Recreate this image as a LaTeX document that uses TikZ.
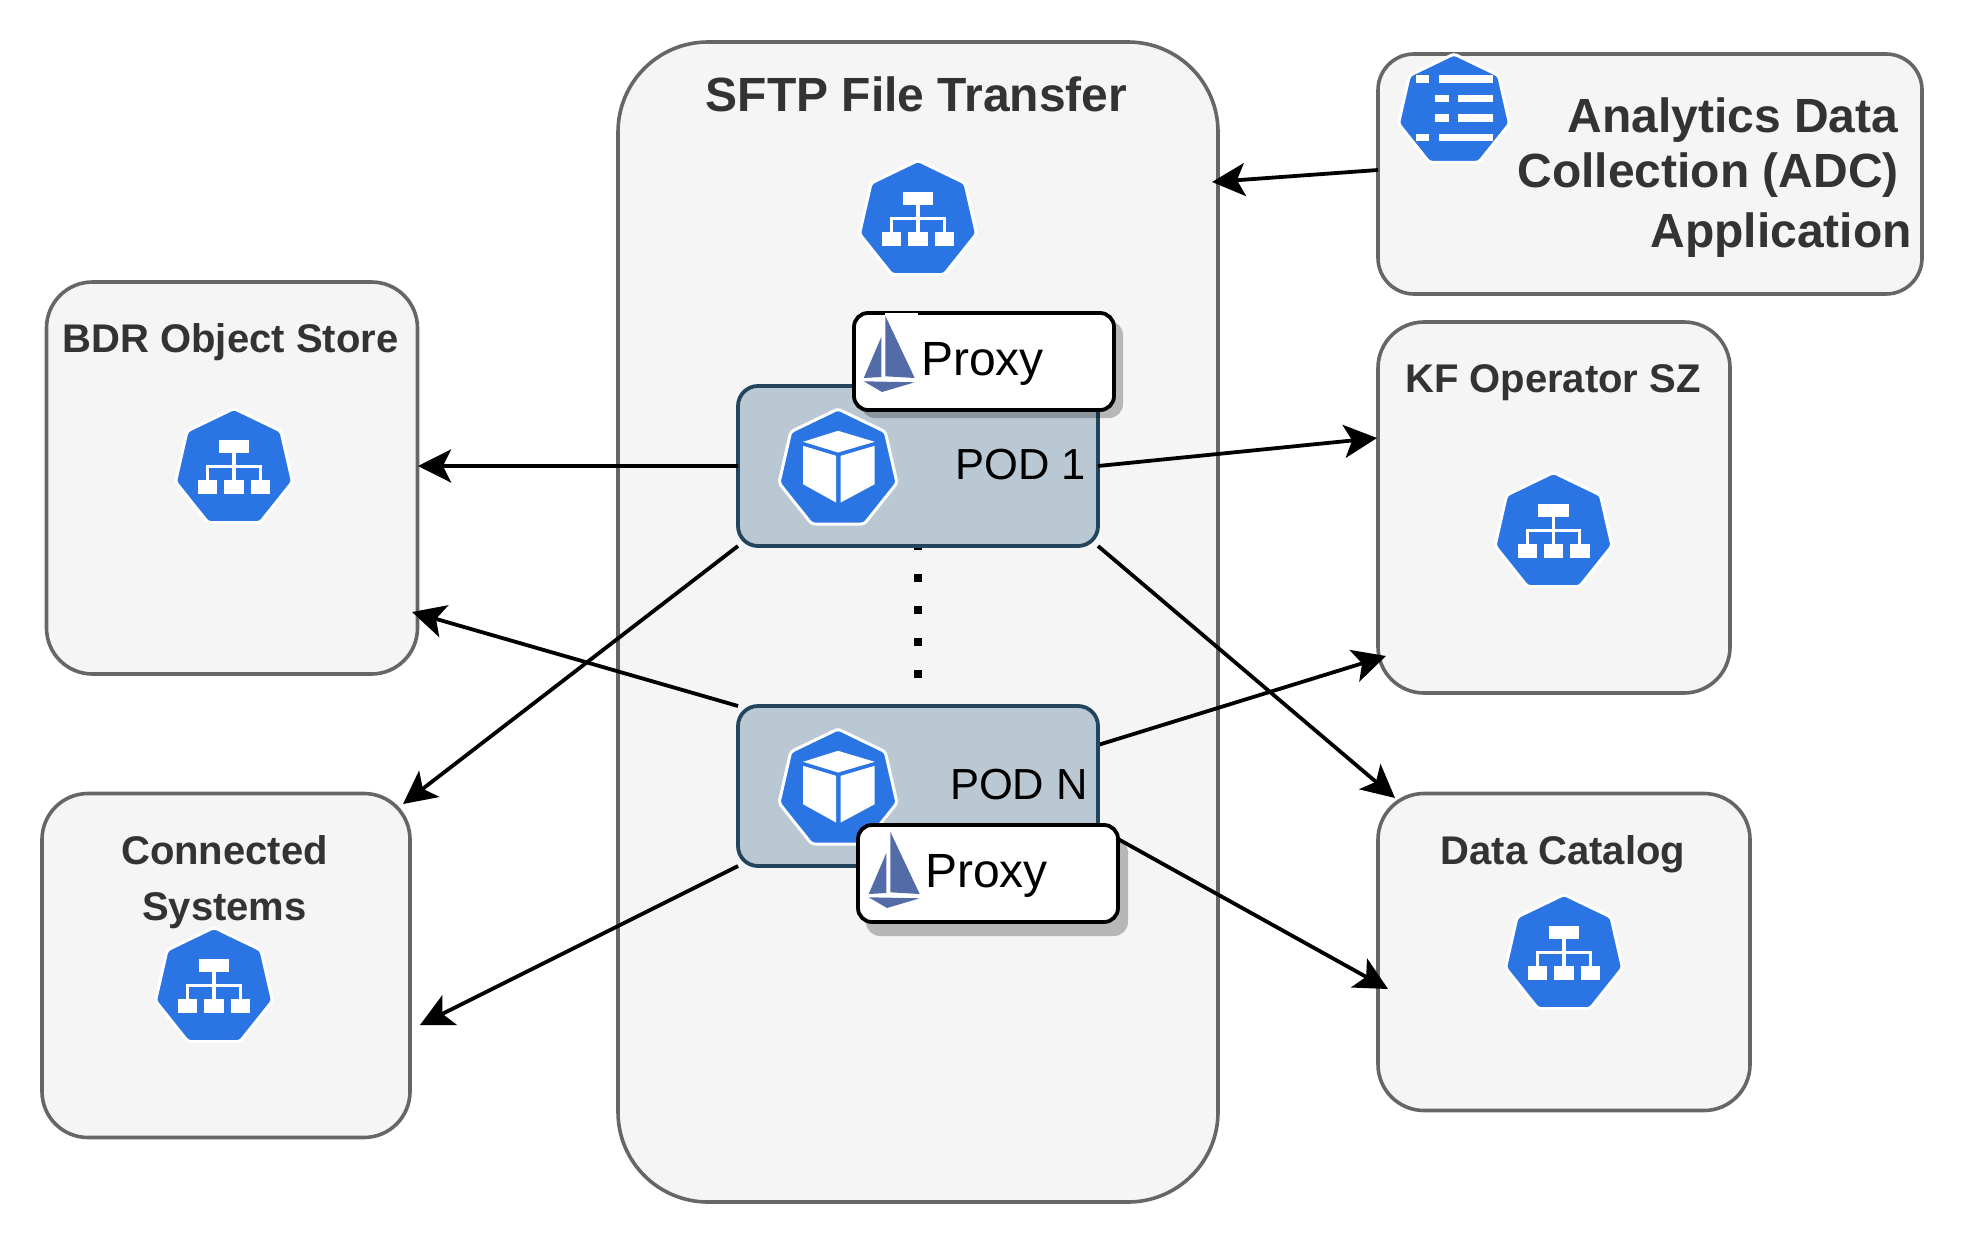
\documentclass[tikz,border=0pt]{standalone}
\usepackage{fontspec}
\setmainfont{Liberation Sans}
\usetikzlibrary{arrows.meta}
\definecolor{panelfill}{HTML}{F5F5F5}
\definecolor{panelline}{HTML}{666666}
\definecolor{podfill}{HTML}{BAC8D3}
\definecolor{podline}{HTML}{23445D}
\definecolor{kblue}{HTML}{2A75E3}
\definecolor{sail}{HTML}{536CA8}
\definecolor{ink}{HTML}{333333}
\tikzset{
  x=1pt,y=-1pt,
  panel/.style={draw=panelline,fill=panelfill,line width=3.6pt,rectangle,inner sep=0pt,outer sep=0pt},
  podbox/.style={draw=podline,fill=podfill,line width=3.8pt,rectangle,rounded corners=20pt,inner sep=0pt,outer sep=0pt,minimum width=360pt,minimum height=160pt},
  proxybox/.style={draw=black,fill=white,line width=3.8pt,rectangle,rounded corners=14pt,inner sep=0pt,outer sep=0pt,minimum width=260pt,minimum height=97pt},
  proxyshadow/.style={fill=black,fill opacity=.25,rectangle,rounded corners=14pt,inner sep=0pt,outer sep=0pt,minimum width=262pt,minimum height=97pt},
  title/.style={text=ink,inner sep=0pt,anchor=base,font=\bfseries\fontsize{40}{55}\selectfont,align=center},
  adctext/.style={title,font=\bfseries\fontsize{48}{55}\selectfont,anchor=base east},
  plain/.style={text=black,inner sep=0pt,font=\fontsize{43.5}{50}\selectfont},
  proxytext/.style={plain,font=\fontsize{48}{50}\selectfont,anchor=base west},
  link/.style={draw=black,line width=3.8pt,-{Stealth[length=33pt,width=33pt,inset=8pt]}},
  pics/hept/.style={code={
    \path[fill=kblue,draw=white,line width=3pt,rounded corners=3pt]
      (-90:#1)--(-38.57:#1)--(12.86:#1)--(64.29:#1)--(115.71:#1)--(167.14:#1)--(218.57:#1)--cycle;
  }},
  pics/svc/.style={code={
    \pic {hept=60};
    \fill[white] (-15.3,-29) rectangle (15.3,-15.7);
    \fill[white] (-36,11.7) rectangle (-16.7,25);
    \fill[white] (-9.7,11.7) rectangle (9.7,25);
    \fill[white] (16.7,11.7) rectangle (36,25);
    \draw[white,line width=3.2pt] (0,-15.7)--(0,11.7);
    \draw[white,line width=3.2pt] (-26.3,11.7)--(-26.3,-1.7)--(26.3,-1.7)--(26.3,11.7);
  }},
  pics/podicon/.style={code={
    \pic {hept=60.5};
    \fill[white] (0,-38.7)--(36.7,-27.7)--(0,-17)--(-35,-27.7)--cycle;
    \fill[white] (-35,-23.7)--(-2,-13.7)--(-2,33)--(-35,14.7)--cycle;
    \fill[white] (2.7,-13.7)--(36.7,-23.7)--(36.7,14.7)--(2.7,33)--cycle;
  }},
  pics/specicon/.style={code={
    \pic {hept=57};
    \foreach \yy/\xa/\xb/\xc/\xd in {-35.7/-38.2/-25/-15.4/38.6,-16/-18.6/-5.4/4.3/38.6,3.3/-18.6/-5.4/4.3/38.6,23/-38.2/-25/-15.4/38.6}{
      \fill[white] (\xa,\yy) rectangle (\xb,\yy+7.3);
      \fill[white] (\xc,\yy) rectangle (\xd,\yy+7.3);
    }
  }},
  pics/sailicon/.style={code={
    \fill[sail] (32.3,2.7)--(61.7,65)--(32.3,63.3)--cycle;
    \fill[sail] (28.3,24)--(10.7,65)--(28.3,64)--cycle;
    \fill[sail] (10.7,68.3)--(61.7,69.3)--(29,79)--cycle;
  }}
}
\begin{document}
\begin{tikzpicture}
\useasboundingbox (0,0) rectangle (1964,1244);
% panels
\node[panel,rounded corners=90pt,minimum width=600pt,minimum height=1160pt] (sftp) at (918,622) {};
\node[panel,rounded corners=36pt,minimum width=544pt,minimum height=240pt] (adc) at (1650,174) {};
\node[panel,rounded corners=46pt,minimum width=371pt,minimum height=392pt] (bdr) at (232,478) {};
\node[panel,rounded corners=46pt,minimum width=368pt,minimum height=344pt] (conn) at (226,965.5) {};
\node[panel,rounded corners=46pt,minimum width=352pt,minimum height=371pt] (kf) at (1554,507.5) {};
\node[panel,rounded corners=46pt,minimum width=372pt,minimum height=317pt] (cat) at (1564,952) {};
% free arrow ends
\coordinate (adcTail) at (1378,170);
\coordinate (sftpIn) at (1212,182);
\coordinate (bdrInA) at (418,466);
\coordinate (bdrInB) at (412,612);
\coordinate (kfInA) at (1377,438);
\coordinate (kfInB) at (1386,656);
\coordinate (connInA) at (403,804);
\coordinate (connInB) at (420,1025);
\coordinate (catInA) at (1395,798);
\coordinate (catInB) at (1388,989);
\coordinate (podNout) at (1098,745);
\coordinate (proxyNout) at (1118,839);
\coordinate (podNtop) at (738,706);
\coordinate (podNbot) at (738,866);
\coordinate (dotsStart) at (918,542);
\coordinate (dotsEnd) at (918,680);
% connectors
\draw[link] (adcTail) -- (sftpIn);
\draw[link] (podNtop) -- (bdrInB);
\draw[link] (podNout) -- (kfInB);
\draw[link] (podNbot) -- (connInB);
\draw[link] (proxyNout) -- (catInB);
\draw[line width=8pt,dash pattern=on 8pt off 24pt] (dotsStart) -- (dotsEnd);
\node[podbox] (pod1) at (918,466) {};
\node[podbox] (podN) at (918,786) {};
\draw[link] (pod1.west) -- (bdrInA);
\draw[link] (pod1.east) -- (kfInA);
\draw[link] (pod1.south west) -- (connInA);
\draw[link] (pod1.south east) -- (catInA);
% icons
\pic at (918,220.5) {svc};
\pic at (234,468.5) {svc};
\pic at (214,987.5) {svc};
\pic at (1553.5,532.5) {svc};
\pic at (1564,954.5) {svc};
\pic at (1454,111) {specicon};
\pic at (838,469.5) {podicon};
\pic at (838,789.5) {podicon};
% proxies
\node[proxyshadow] (shadow1) at (992,369.5) {};
\node[proxybox] (proxy1) at (984,361.5) {};
\fill[white] (885,312.5) rectangle (918,315);
\node[proxyshadow] (shadowN) at (997,887.5) {};
\node[proxybox] (proxyN) at (988,873.5) {};
\pic at (853,313) {sailicon};
\pic at (858,829) {sailicon};
% labels
\node[title,font=\bfseries\fontsize{48}{55}\selectfont] (tsftp) at (916.5,112) {SFTP File Transfer};
\node[title] (tbdr) at (230.5,352) {BDR Object Store};
\node[title] (tconn1) at (224.5,864) {Connected};
\node[title] (tconn2) at (224.5,920) {Systems};
\node[title] (tkf) at (1553,392) {KF Operator SZ};
\node[title] (tcat) at (1563,864) {Data Catalog};
\node[adctext] (tadc1) at (1898.5,132) {Analytics Data};
\node[adctext] (tadc2) at (1899,187) {Collection (ADC)};
\node[adctext] (tadc3) at (1912,247) {Application};
\node[plain,anchor=base east] (lpod1) at (1086,479) {POD 1};
\node[plain,anchor=base east] (lpodN) at (1088,799) {POD N};
\node[proxytext] (lp1) at (921,375) {Proxy};
\node[proxytext] (lpN) at (925,887) {Proxy};
\end{tikzpicture}
\end{document}
